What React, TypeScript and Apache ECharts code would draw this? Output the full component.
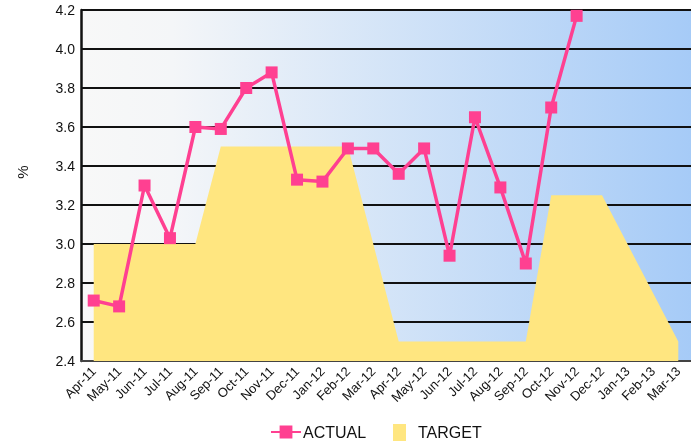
import React, { useEffect, useRef } from "react";
import * as echarts from "echarts";

const categories = [
  "Apr-11", "May-11", "Jun-11", "Jul-11", "Aug-11", "Sep-11", "Oct-11", "Nov-11",
  "Dec-11", "Jan-12", "Feb-12", "Mar-12", "Apr-12", "May-12", "Jun-12", "Jul-12",
  "Aug-12", "Sep-12", "Oct-12", "Nov-12", "Dec-12", "Jan-13", "Feb-13", "Mar-13",
];

const actual: (number | null)[] = [
  2.71, 2.68, 3.30, 3.03, 3.60, 3.59, 3.80, 3.88, 3.33, 3.32, 3.49, 3.49,
  3.36, 3.49, 2.94, 3.65, 3.29, 2.90, 3.70, 4.17, null, null, null, null,
];

const target = [
  3.0, 3.0, 3.0, 3.0, 3.0, 3.5, 3.5, 3.5, 3.5, 3.5, 3.5, 3.0,
  2.5, 2.5, 2.5, 2.5, 2.5, 2.5, 3.25, 3.25, 3.25, 3.0, 2.75, 2.5,
];

const yMin = 2.4;
const yMax = 4.2;
const yStep = 0.2;

export default function App() {
  const ref = useRef<HTMLDivElement>(null);
  useEffect(() => {
    if (!ref.current) return;
    const chart = echarts.init(ref.current, null, { renderer: "svg" });
    const font = "Arial, 'Liberation Sans', sans-serif";
    chart.setOption({
      animation: false,
      textStyle: { fontFamily: font },
      grid: {
        left: 81,
        top: 10,
        right: -3,
        bottom: 81,
        show: true,
        borderWidth: 0,
        backgroundColor: {
          type: "linear",
          x: 0,
          y: 0,
          x2: 1,
          y2: 0,
          colorStops: [
            { offset: 0, color: "#f8f8f8" },
            { offset: 0.15, color: "#f4f6f8" },
            { offset: 1, color: "#a6cbf7" },
          ],
        },
      },
      graphic: [
        {
          type: "text",
          x: 22,
          y: 172,
          rotation: Math.PI / 2,
          style: {
            text: "%",
            fill: "#111",
            fontSize: 15,
            fontFamily: font,
            align: "center",
            verticalAlign: "middle",
          },
        },
      ],
      legend: [
        {
          left: 270,
          top: 424,
          padding: 0,
          data: ["ACTUAL"],
          itemWidth: 30,
          itemHeight: 16,
          textStyle: { fontSize: 16, color: "#111", fontFamily: font, padding: [0, 0, 0, -3] },
        },
        {
          left: 393,
          top: 424,
          padding: 0,
          data: [{ name: "TARGET", icon: "rect" }],
          itemWidth: 13,
          itemHeight: 17,
          textStyle: { fontSize: 16, color: "#111", fontFamily: font, padding: [0, 0, 0, 7] },
        },
      ],
      xAxis: {
        type: "category",
        data: categories,
        boundaryGap: true,
        axisLine: { show: true, lineStyle: { color: "#555", width: 1.5 } },
        axisTick: { show: false },
        axisLabel: {
          interval: 0,
          rotate: 45,
          color: "#111",
          fontSize: 13,
          fontFamily: font,
          margin: 8,
        },
        splitLine: { show: false },
      },
      yAxis: {
        type: "value",
        min: yMin,
        max: yMax,
        interval: yStep,
        axisLine: { show: true, lineStyle: { color: "#111", width: 2.5 } },
        axisTick: { show: false },
        axisLabel: {
          color: "#111",
          fontSize: 14,
          fontFamily: font,
          margin: 6,
          formatter: (v: number) => v.toFixed(1),
        },
        splitLine: { show: true, lineStyle: { color: "#111", width: 2 } },
      },
      series: [
        {
          name: "TARGET",
          type: "line",
          data: target,
          symbol: "none",
          lineStyle: { width: 0, color: "#ffe680" },
          itemStyle: { color: "#ffe680" },
          areaStyle: { color: "#ffe680", opacity: 1 },
          z: 2,
        },
        {
          name: "ACTUAL",
          type: "line",
          data: actual,
          symbol: "rect",
          symbolSize: 12,
          lineStyle: { width: 3.5, color: "#ff4091" },
          itemStyle: { color: "#ff4091" },
          z: 3,
        },
      ],
    });
    return () => chart.dispose();
  }, []);
  return (
    <div
      ref={ref}
      style={{ position: "fixed", left: 0, top: 0, width: 691, height: 442 }}
    />
  );
}
